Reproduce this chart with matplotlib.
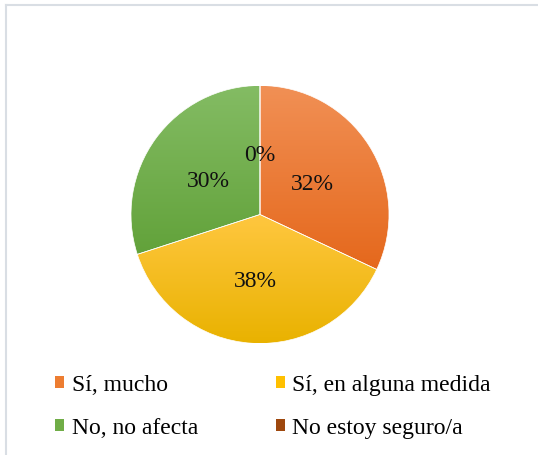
import numpy as np
import matplotlib
matplotlib.use("Agg")
from matplotlib import pyplot as plt
from matplotlib.patches import Rectangle
from matplotlib.colors import LinearSegmentedColormap
from matplotlib.transforms import offset_copy

labels = ["Sí, mucho", "Sí, en alguna medida", "No, no afecta", "No estoy seguro/a"]
values = [32, 38, 30, 0]
pct_labels = ["32%", "38%", "30%", "0%"]
# gradient colours (top, bottom) per slice
tops = ["#F19055", "#FFC740", "#84BC64", "#B05A2E"]
bottoms = ["#E5681C", "#E9B200", "#62A23A", "#983E0C"]
mids = ["#ED7D31", "#FFC000", "#70AD47", "#9E480E"]

plt.rcParams['font.family'] = ['Liberation Serif', 'DejaVu Serif']

fig = plt.figure(figsize=(5.38, 4.56), dpi=100)
fig.patch.set_facecolor("white")

# chart border (only top/left visible in the picture)
fig.add_artist(plt.Line2D([5.5/538, 5.5/538], [0, 1 - 5.5/456], color="#D9DEE4", lw=1.5))
fig.add_artist(plt.Line2D([5.5/538, 1], [1 - 5.5/456, 1 - 5.5/456], color="#D9DEE4", lw=1.5))

ax = fig.add_axes([131/538, (456-344.5)/456, 258/538, 258/456])
wedges, _ = ax.pie(values, startangle=90, counterclock=False, radius=1,
                   wedgeprops=dict(linewidth=0.5, edgecolor="white"))
ax.set_xlim(-1, 1)
ax.set_ylim(-1, 1)
ax.set_aspect("equal")
ax.axis("off")

grad = np.linspace(0, 1, 256).reshape(-1, 1)
for w, t, b in zip(wedges, tops, bottoms):
    if w.theta2 - w.theta1 < 1e-6:
        continue
    w.set_facecolor("none")
    bb = w.get_path().get_extents()
    cmap = LinearSegmentedColormap.from_list("g", [b, t])
    im = ax.imshow(grad, cmap=cmap, origin="lower", aspect="auto",
                   extent=[bb.x0, bb.x1, bb.y0, bb.y1], zorder=w.get_zorder() - 0.1)
    im.set_clip_path(w)

# percent labels at half radius, wedge mid-angle (nudged down a few px)
trans = offset_copy(ax.transData, fig=fig, x=-0.5, y=-3, units="dots")
start = 90.0
total = float(sum(values))
for v, txt in zip(values, pct_labels):
    ang = start - 360.0 * v / total / 2
    a = np.deg2rad(ang)
    ax.text(0.49 * np.cos(a), 0.49 * np.sin(a), txt, ha="center", va="center",
            fontsize=17, color="#111111", transform=trans)
    start -= 360.0 * v / total

handles = [Rectangle((0, 0), 1, 1, facecolor=c, edgecolor="none") for c in mids]
order = [0, 2, 1, 3]  # row-wise legend layout
fig.legend([handles[i] for i in order], [labels[i] for i in order], ncol=2,
           loc="upper left", bbox_to_anchor=(55/538, 1 - 375/456), frameon=False,
           fontsize=17, borderpad=0, borderaxespad=0,
           handlelength=0.4, handleheight=0.4, handletextpad=0.3,
           columnspacing=3.3, labelspacing=0.95)

fig.savefig("out.png", dpi=100, facecolor="white")
